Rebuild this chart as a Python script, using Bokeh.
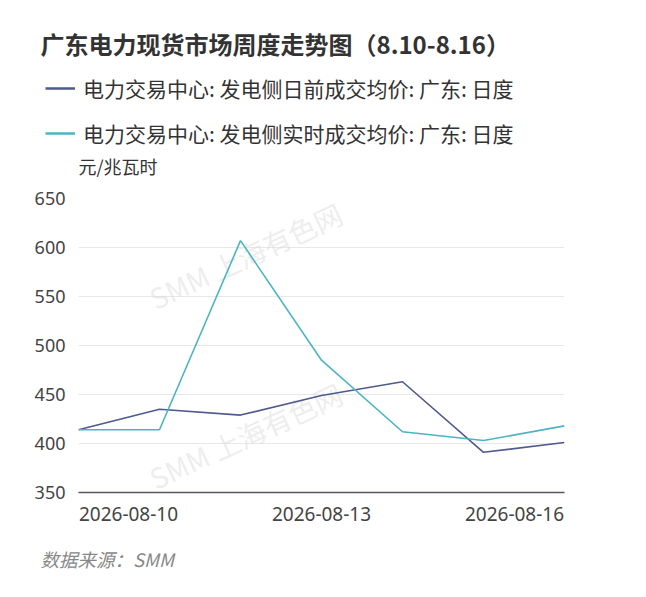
import pandas as pd
from bokeh.plotting import figure
from bokeh.layouts import column
from bokeh.models import Range1d, Label, Legend, LegendItem, FixedTicker
from bokeh.embed import file_html
from bokeh.resources import INLINE

dates = ["2026-08-10", "2026-08-11", "2026-08-12", "2026-08-13", "2026-08-14", "2026-08-15", "2026-08-16"]
day_ahead = [414, 435, 429, 449, 463, 391, 401]
real_time = [414, 414, 607, 485, 412, 403, 418]
y_ticks = [350, 400, 450, 500, 550, 600, 650]
x_tick_dates = ["2026-08-10", "2026-08-13", "2026-08-16"]

title_text = "广东电力现货市场周度走势图（8.10-8.16）"
series_names = ["电力交易中心: 发电侧日前成交均价: 广东: 日度", "电力交易中心: 发电侧实时成交均价: 广东: 日度"]
unit_text = "元/兆瓦时"
source_text = "数据来源：SMM"
watermark_text = "SMM 上海有色网"

CJK = "Noto Sans CJK SC"
LAT = "Noto Sans"
C_DARK = "#4f5a8f"
C_TEAL = "#4db4c4"
W = 646

def ms(d):
    return pd.Timestamp(d).timestamp() * 1000.0

x = pd.to_datetime(dates)

def blank(h):
    f = figure(width=W, height=h, output_backend="svg", toolbar_location=None,
               x_axis_location=None, y_axis_location=None,
               x_range=Range1d(0, 1), y_range=Range1d(0, 1), min_border=0,
               frame_align=False)
    f.outline_line_color = None
    f.grid.visible = False
    return f

# ---------------- header (title, legend, unit) ----------------
HA = 180
head = blank(HA)
head.add_layout(Label(x=40, y=HA - 43, x_units="screen", y_units="screen", text=title_text,
                      text_baseline="middle", text_font=CJK, text_font_size="24px",
                      text_font_style="bold", text_color="#333333"))
head.add_layout(Label(x=78, y=HA - 165, x_units="screen", y_units="screen", text=unit_text,
                      text_baseline="middle", text_font=CJK, text_font_size="18px",
                      text_color="#333333"))
# legend keys (series drawn here lie outside this header's ranges, only their keys show)
k1 = head.line(x, day_ahead, line_color=C_DARK, line_width=2.5)
k2 = head.line(x, real_time, line_color=C_TEAL, line_width=2.5)
legend = Legend(items=[LegendItem(label=series_names[0], renderers=[k1]),
                       LegendItem(label=series_names[1], renderers=[k2])],
                location=(45, HA - 148), orientation="vertical",
                glyph_width=30, glyph_height=20, label_height=20, label_standoff=8,
                spacing=15, padding=0, margin=0,
                border_line_color=None, background_fill_alpha=0,
                label_text_font=CJK, label_text_font_size="21px", label_text_color="#333333")
head.add_layout(legend, "center")

# ---------------- chart ----------------
HB = 360
day_px = 486.0 / 6
day_ms = 86400000.0
half_label = 50.0
p = figure(width=W, height=HB, output_backend="svg", toolbar_location=None,
           x_axis_type="datetime",
           x_range=Range1d(ms(dates[0]), ms(dates[-1])),
           y_range=Range1d(y_ticks[0], y_ticks[-1]),
           min_border_left=78, min_border_right=82, min_border_top=18, min_border_bottom=48,
           frame_align=False)
p.outline_line_color = None

for wx, wy in [(167, 237), (167, 57)]:
    p.add_layout(Label(x=wx, y=wy, x_units="screen", y_units="screen", text=watermark_text,
                       angle=25, angle_units="deg", text_align="center", text_baseline="middle",
                       text_font=CJK, text_font_size="28px", text_color="#d8d8d8",
                       text_alpha=0.45, level="underlay"))

p.line(x, day_ahead, line_color=C_DARK, line_width=1.6)
p.line(x, real_time, line_color=C_TEAL, line_width=1.6)

p.yaxis.ticker = FixedTicker(ticks=y_ticks)
p.yaxis.axis_line_color = None
p.yaxis.major_tick_line_color = None
p.yaxis.minor_tick_line_color = None
p.yaxis.major_tick_out = 0
p.yaxis.major_label_standoff = 13
p.yaxis.major_label_text_font = LAT
p.yaxis.major_label_text_font_size = "18px"
p.yaxis.major_label_text_color = "#444444"

# edge labels: first label starts at the axis start, last ends at the axis end
shift = [half_label / day_px * day_ms, 0.0, -half_label / day_px * day_ms]
xt = [ms(d) + s for d, s in zip(x_tick_dates, shift)]
p.xaxis.ticker = FixedTicker(ticks=xt)
p.xaxis.major_label_overrides = {t: d for t, d in zip(xt, x_tick_dates)}
p.xaxis.axis_line_color = "#55556a"
p.xaxis.axis_line_width = 1.5
p.xaxis.major_tick_line_color = None
p.xaxis.minor_tick_line_color = None
p.xaxis.major_tick_out = 0
p.xaxis.major_label_standoff = 14
p.xaxis.major_label_text_font = LAT
p.xaxis.major_label_text_font_size = "19px"
p.xaxis.major_label_text_color = "#444444"

p.xgrid.grid_line_color = None
p.ygrid.ticker = FixedTicker(ticks=y_ticks[1:])
p.ygrid.grid_line_color = "#e8e8e8"
p.ygrid.grid_line_width = 1.2

# ---------------- footer ----------------
HC = 597 - HA - HB
foot = blank(HC)
foot.add_layout(Label(x=40, y=597 - 558, x_units="screen", y_units="screen", text=source_text,
                      text_baseline="middle", text_font=CJK, text_font_size="18.5px",
                      text_font_style="italic", text_color="#888888"))

layout = column(head, p, foot, spacing=0)
open("out.html", "w").write(file_html(layout, INLINE))
